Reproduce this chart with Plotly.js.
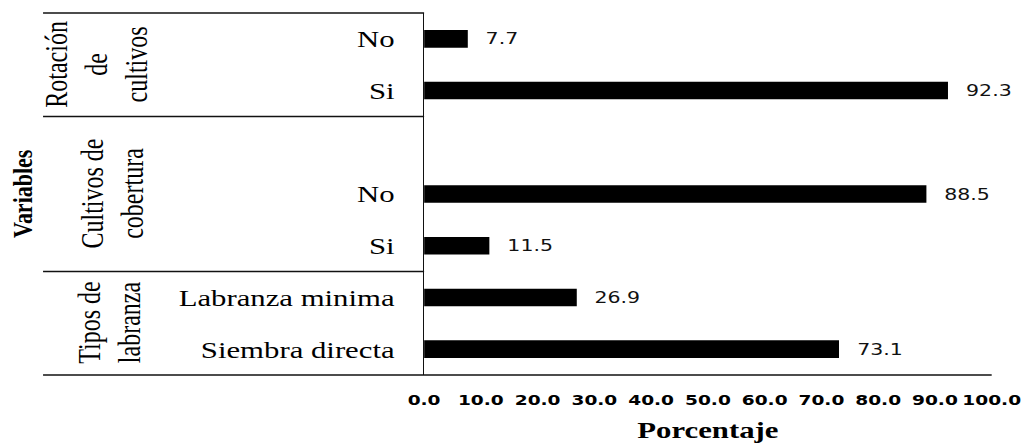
<!DOCTYPE html>
<html><head><meta charset="utf-8">
<script src="https://cdn.plot.ly/plotly-3.0.1.min.js"></script>
<style>
html,body{margin:0;padding:0;background:#fff;overflow:hidden;width:1025px;height:445px}
#chart{width:800px;height:445px;transform:scaleX(1.28125);transform-origin:0 0}
</style></head><body><div id="chart"></div>
<script>
// ---- data ----
const groupNames = ['Tipos de labranza', 'Cultivos de cobertura', 'Rotación de cultivos'];
const groupLabels = ['Tipos de<br>labranza', 'Cultivos de<br>cobertura', 'Rotación<br>de<br>cultivos'];
const groupExtraSlots = [0, 1, 0];
const categories = ['Siembra directa', 'Labranza minima', 'Si', 'No', 'Si', 'No'];
const categoryGroup = [0, 0, 1, 1, 2, 2];
const percentages = [73.1, 26.9, 11.5, 88.5, 92.3, 7.7];
const xTickValues = [0, 10, 20, 30, 40, 50, 60, 70, 80, 90, 100];
const xTickLabels = xTickValues.map(v => v.toFixed(1));
const yAxisTitle = 'Variables';
const xAxisTitle = 'Porcentaje';

// ---- build category slots ----
const slotKeys = [], slotText = [], groupStart = [], groupEnd = [];
groupNames.forEach((g, gi) => {
  groupStart[gi] = slotKeys.length;
  categories.forEach((c, i) => {
    if (categoryGroup[i] === gi) { slotKeys.push('k' + i); slotText.push(c); }
  });
  for (let s = 0; s < groupExtraSlots[gi]; s++) { slotKeys.push('pad' + gi + '_' + s); slotText.push(''); }
  groupEnd[gi] = slotKeys.length - 1;
});
const barKeys = categories.map((c, i) => 'k' + i);

const W = 800, H = 445;
const M = {l: 331, r: 26, t: 13, b: 70};
const plotW = W - M.l - M.r;
const px = p => (p - M.l) / plotW;   // page x (unstretched) -> paper
const tableLeft = px(33.6);
const groupLabelRight = [px(116), px(118), px(121)];

const serif = 'Liberation Serif';
const sans = 'DejaVu Sans';

const trace = {
  type: 'bar', orientation: 'h',
  x: percentages, y: barKeys,
  marker: {color: '#000', line: {width: 0}},
  width: 0.34, hoverinfo: 'skip'
};

const annotations = [];
percentages.forEach((v, i) => annotations.push({
  x: v, y: barKeys[i], xref: 'x', yref: 'y',
  text: v.toFixed(1), showarrow: false, xanchor: 'left', yanchor: 'middle', xshift: 12,
  font: {family: sans, size: 16, color: '#111'}
}));
groupLabels.forEach((t, gi) => annotations.push({
  x: groupLabelRight[gi], xref: 'paper', y: (groupStart[gi] + groupEnd[gi]) / 2, yref: 'y',
  text: t, showarrow: false, textangle: -90, xanchor: 'right', yanchor: 'middle',
  font: {family: serif, size: 24, color: '#000'}
}));
annotations.push({
  x: px(17), xref: 'paper', y: (slotKeys.length - 1) / 2, yref: 'y',
  text: yAxisTitle, showarrow: false, textangle: -90, xanchor: 'center', yanchor: 'middle',
  font: {family: serif, size: 22, color: '#000', weight: 'bold'}
});

const lineStyle = {color: '#111', width: 1.5};
const shapes = [
  {type: 'line', xref: 'paper', yref: 'paper', x0: tableLeft, x1: 0, y0: 1, y1: 1, line: lineStyle},
  {type: 'line', xref: 'paper', yref: 'paper', x0: tableLeft, x1: 1, y0: 0, y1: 0, line: lineStyle}
];
for (let gi = 0; gi < groupNames.length - 1; gi++) {
  shapes.push({type: 'line', xref: 'paper', yref: 'y', x0: tableLeft, x1: 0,
    y0: groupEnd[gi] + 0.5, y1: groupEnd[gi] + 0.5, line: lineStyle});
}

const layout = {
  width: W, height: H, margin: M,
  paper_bgcolor: '#fff', plot_bgcolor: '#fff', showlegend: false,
  xaxis: {
    range: [0, 100], tickvals: xTickValues, ticktext: xTickLabels, tickangle: 0,
    showgrid: false, zeroline: false, showline: false, ticks: '',
    ticklabelstandoff: 15,
    tickfont: {family: sans, size: 14.5, color: '#000', weight: 'bold'},
    title: {text: xAxisTitle, font: {family: serif, size: 24, color: '#000', weight: 'bold'}, standoff: 13},
    fixedrange: true
  },
  yaxis: {
    type: 'category', categoryorder: 'array', categoryarray: slotKeys,
    tickvals: slotKeys, ticktext: slotText,
    range: [-0.5, slotKeys.length - 0.5],
    showgrid: false, zeroline: false, showline: true, linecolor: '#111', linewidth: 1.2,
    ticks: '', ticklabelstandoff: 17,
    tickfont: {family: serif, size: 24, color: '#000'},
    fixedrange: true
  },
  annotations: annotations, shapes: shapes
};

Plotly.newPlot('chart', [trace], layout, {displayModeBar: false, staticPlot: true});
</script></body></html>
